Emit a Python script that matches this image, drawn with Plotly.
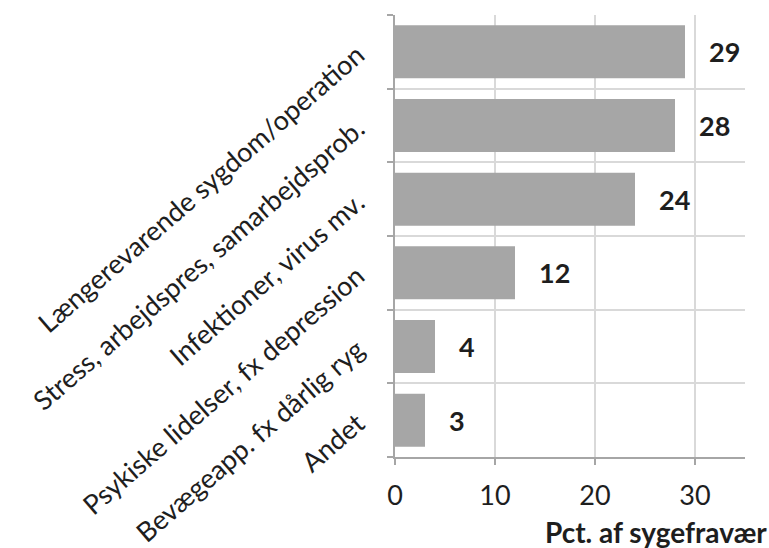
import plotly.graph_objects as go

# Sickness absence by cause, percent of total absence
categories = [
    "Længerevarende sygdom/operation",
    "Stress, arbejdspres, samarbejdsprob.",
    "Infektioner, virus mv.",
    "Psykiske lidelser, fx depression",
    "Bevægeapp. fx dårlig ryg",
    "Andet",
]
values = [29, 28, 24, 12, 4, 3]
x_ticks = [0, 10, 20, 30]
x_title = "Pct. af sygefravær"

FONT = "Lato"
TEXT_COLOR = "#1e1e1e"

fig = go.Figure()
fig.add_trace(go.Bar(
    x=values,
    y=categories,
    orientation="h",
    marker=dict(color="#a6a6a6", line=dict(width=0)),
    showlegend=False,
    hoverinfo="skip",
))

# value labels to the right of each bar
for cat, val in zip(categories, values):
    fig.add_annotation(
        x=val, y=cat, text=str(val), showarrow=False,
        xanchor="left", yanchor="middle", xshift=22,
        font=dict(family=FONT, size=27, color=TEXT_COLOR, weight="bold"),
    )

fig.update_layout(
    width=769, height=548,
    margin=dict(l=395, r=24, t=15, b=91),
    paper_bgcolor="white", plot_bgcolor="white",
    bargap=0.28,
    font=dict(family=FONT, color=TEXT_COLOR),
)

fig.update_xaxes(
    range=[0, 35],
    tickvals=x_ticks,
    tickfont=dict(family=FONT, size=27, color=TEXT_COLOR),
    showgrid=True, gridcolor="#d9d9d9", gridwidth=1.5,
    showline=True, linecolor="#a6a6a6", linewidth=2,
    ticks="outside", ticklen=6, tickcolor="#a6a6a6", tickwidth=2,
    ticklabelstandoff=8,
    zeroline=False,
    automargin=False,
)

fig.update_yaxes(
    categoryorder="array", categoryarray=categories[::-1],
    tickson="boundaries",
    tickangle=-41,
    tickfont=dict(family=FONT, size=27, color=TEXT_COLOR),
    showgrid=True, gridcolor="#d9d9d9", gridwidth=1.5,
    showline=True, linecolor="#a6a6a6", linewidth=2,
    ticks="outside", ticklen=6, tickcolor="#a6a6a6", tickwidth=2,
    ticklabelstandoff=30,
    automargin=False,
)

fig.add_annotation(
    text=x_title, xref="paper", yref="paper",
    x=1.0, y=0, xanchor="right", yanchor="middle", yshift=-75, xshift=24,
    showarrow=False,
    font=dict(family=FONT, size=28, color=TEXT_COLOR, weight="bold"),
)

fig.write_html("out.html")
